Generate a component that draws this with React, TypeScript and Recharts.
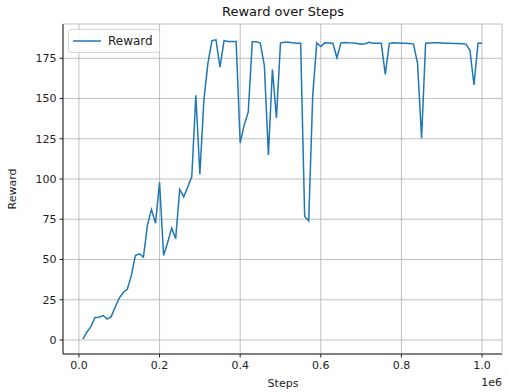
import React from "react";
import {
  LineChart,
  Line,
  XAxis,
  YAxis,
  CartesianGrid,
} from "recharts";

const steps = Array.from({ length: 100 }, (_, i) => (i + 1) * 10000);

const rewards = [
  0.5, 5, 8.5, 14, 14.2, 15.2, 13, 14.5, 20.5, 26,
  29.5, 31.5, 40, 52.5, 53.5, 51.5, 71.5, 81, 72.5, 98,
  52.5, 60.5, 69.5, 63, 93.5, 89, 95, 101.5, 152, 103,
  149, 172, 186, 186.5, 169.5, 186, 185.5, 185.5, 185.5, 122.5,
  133.5, 141.5, 185.2, 185.2, 184.5, 170.5, 115, 168, 138, 184.6,
  185, 185, 184.6, 184.4, 184.3, 76.7, 74, 152, 184.6, 182.3,
  184.6, 184.5, 184.3, 175.3, 184.6, 184.8, 184.6, 184.5, 184.2, 183.8,
  184, 184.9, 184.4, 184.4, 184.3, 165, 184.3, 184.6, 184.5, 184.4,
  184.3, 184.2, 183.8, 171.8, 125.3, 184.3, 184.5, 184.6, 184.6, 184.5,
  184.4, 184.3, 184.2, 184.2, 184.1, 183.8, 180, 158.4, 184.3, 184.3,
];

const xTicks = [0, 200000, 400000, 600000, 800000, 1000000];
const yTicks = [0, 25, 50, 75, 100, 125, 150, 175];

const data = steps.map((s, i) => ({ step: s, reward: rewards[i] }));

const FONT = "DejaVu Sans, sans-serif";
const TICK = { fill: "#222", fontSize: 11, fontFamily: FONT };

// legend drawn as an overlay so it does not push the plot down
const LegendBox = () => (
  <div
    style={{
      position: "absolute",
      left: 68,
      top: 29,
      width: 92,
      height: 24,
      border: "1px solid #d6d6d6",
      borderRadius: 3,
      background: "rgba(255,255,255,0.8)",
      display: "flex",
      alignItems: "center",
      fontFamily: FONT,
      fontSize: 12,
      color: "#222",
      boxSizing: "border-box",
    }}
  >
    <svg width={39} height={10}>
      <line x1={4} y1={5} x2={32} y2={5} stroke="#1f77b4" strokeWidth={1.5} />
    </svg>
    <span>Reward</span>
  </div>
);

const App = () => {
  return (
    <div
      style={{
        position: "absolute",
        left: 0,
        top: 0,
        width: 509,
        height: 392,
        background: "#fff",
      }}
    >
      <LineChart
        width={509}
        height={392}
        data={data}
        margin={{ top: 24, right: 7, left: 0, bottom: 0 }}
      >
        <text
          x={283}
          y={16}
          textAnchor="middle"
          fontFamily={FONT}
          fontSize={13}
          fill="#111"
        >
          Reward over Steps
        </text>
        <CartesianGrid stroke="#b0b0b0" strokeWidth={0.8} />
        <XAxis
          dataKey="step"
          type="number"
          domain={[-39500, 1049500]}
          ticks={xTicks}
          allowDataOverflow
          tickFormatter={(v: number) => (v / 1e6).toFixed(1)}
          tick={TICK}
          tickSize={3.5}
          tickMargin={4}
          height={38}
          stroke="#222"
        />
        <XAxis
          xAxisId="top"
          orientation="top"
          dataKey="step"
          type="number"
          domain={[-39500, 1049500]}
          height={0}
          tick={false}
          tickLine={false}
          stroke="#222"
        />
        <YAxis
          type="number"
          domain={[-8.7, 196.3]}
          ticks={yTicks}
          allowDataOverflow
          tick={TICK}
          tickSize={3.5}
          tickMargin={3}
          width={63}
          stroke="#222"
          label={{
            value: "Reward",
            angle: -90,
            position: "insideLeft",
            offset: 12,
            fill: "#222",
            fontSize: 11,
            fontFamily: FONT,
            style: { textAnchor: "middle" },
          }}
        />
        <YAxis
          yAxisId="right"
          orientation="right"
          domain={[-8.7, 196.3]}
          width={0}
          tick={false}
          tickLine={false}
          stroke="#222"
        />
        <Line
          type="linear"
          dataKey="reward"
          name="Reward"
          stroke="#1f77b4"
          strokeWidth={1.5}
          dot={false}
          isAnimationActive={false}
        />
        <text
          x={283}
          y={387}
          textAnchor="middle"
          fontFamily={FONT}
          fontSize={11}
          fill="#222"
        >
          Steps
        </text>
        <text
          x={502}
          y={386}
          textAnchor="end"
          fontFamily={FONT}
          fontSize={11}
          fill="#222"
        >
          1e6
        </text>
      </LineChart>
      <LegendBox />
    </div>
  );
};

export default App;
